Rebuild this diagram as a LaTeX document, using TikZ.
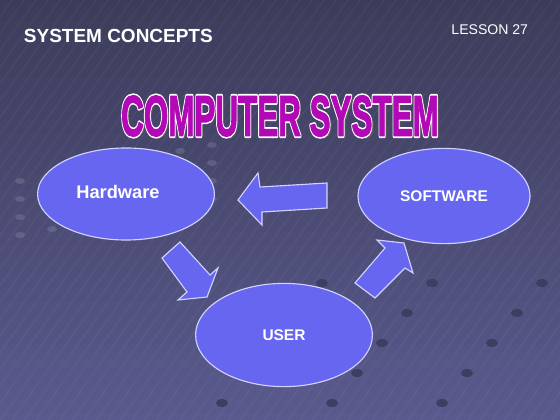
\documentclass[tikz,border=0pt]{standalone}
\usepackage{fontspec}
\setmainfont{Liberation Sans}
\usetikzlibrary{shapes.geometric}

\definecolor{bgtop}{RGB}{60,60,90}
\definecolor{bgbot}{RGB}{90,90,142}
\definecolor{blobfill}{RGB}{102,102,240}
\definecolor{rim}{RGB}{210,210,255}
\definecolor{titlepink}{RGB}{178,8,182}
\definecolor{dotdark}{RGB}{62,62,98}

% outlined heavy lettering: wide white rim below, stroked magenta on top
\newcommand{\rimtext}[1]{\special{pdf:literal direct 1 1 1 RG 1 1 1 rg 3.2 w 1 j 2 Tr}#1\special{pdf:literal direct 0 Tr}}
\newcommand{\heavytext}[1]{\special{pdf:literal direct 0.698 0.031 0.714 RG 0.698 0.031 0.714 rg 0.9 w 1 j 2 Tr}#1\special{pdf:literal direct 0 Tr}}

\begin{document}
\begin{tikzpicture}[x=0.025cm,y=-0.025cm,
    blob/.style={ellipse,fill=blobfill,draw=rim,line width=0.8pt,inner sep=0pt,
                 text=white,font=\bfseries},
    blockarrow/.style={fill=blobfill,draw=rim,line width=0.8pt,line join=miter},
    streak/.style={white,opacity=0.07,line width=0.4pt},
    title/.style={font=\fontsize{41}{41}\selectfont\bfseries}]
    % background
    \shade[top color=bgtop,bottom color=bgbot] (0,0) rectangle (560,420);
    \useasboundingbox (0,0) rectangle (560,420);
    \foreach \i in {-420,-408,...,560}
        \draw[streak] (\i,420) -- (\i+300,0);
    \foreach \k in {0,1,2}
        \foreach \j in {0,...,5}
            \fill[dotdark] (542-110*\k-25*\j,283+30*\j) ellipse (6 and 4);
    \foreach \r in {0,1,2,3}
        \foreach \j in {0,...,6}
            \fill[white,opacity=0.12] (20+32*\j,235-18*\r-6*\j) ellipse (5 and 3);

    % headings
    \node[anchor=west,text=white,font=\fontsize{13.5}{13.5}\selectfont\bfseries] (topic) at (19,36) {SYSTEM CONCEPTS};
    \node[anchor=east,text=white,font=\fontsize{10}{10}\selectfont] (lesson) at (533,30) {LESSON 27};
    \node[title,text=gray!70!black] (shadow) at (282.5,118.5) {\scalebox{0.545}[1]{COMPUTER SYSTEM}};
    \node[title,text=titlepink] (headline) at (280,116)
        {\scalebox{0.545}[1]{\rlap{\rimtext{COMPUTER SYSTEM}}\heavytext{COMPUTER SYSTEM}}};

    % the three parts
    \node[blob,minimum width=4.42cm,minimum height=2.3cm] (hw) at (126,194) {};
    \node[text=white,font=\fontsize{13}{13}\selectfont\bfseries] (hwlabel) at (118,192) {Hardware};
    \node[blob,minimum width=4.3cm,minimum height=2.38cm,font=\fontsize{11}{11}\selectfont\bfseries] (sw) at (444,196) {SOFTWARE};
    \node[blob,minimum width=4.42cm,minimum height=2.58cm,font=\fontsize{11}{11}\selectfont\bfseries] (user) at (284,335) {USER};

    % block arrows
    \draw[blockarrow] (238,200) -- (258,173) -- (260,187) -- (327,183) -- (327,208) -- (262,212) -- (262,225) -- cycle;
    \draw[blockarrow] (162,258) -- (180,242) -- (210,275) -- (218,268) -- (207,297) -- (178,300) -- (187,292) -- cycle;
    \draw[blockarrow] (355,283) -- (385,248) -- (377,240) -- (404,243) -- (413,273) -- (405,268) -- (375,298) -- cycle;
\end{tikzpicture}
\end{document}
